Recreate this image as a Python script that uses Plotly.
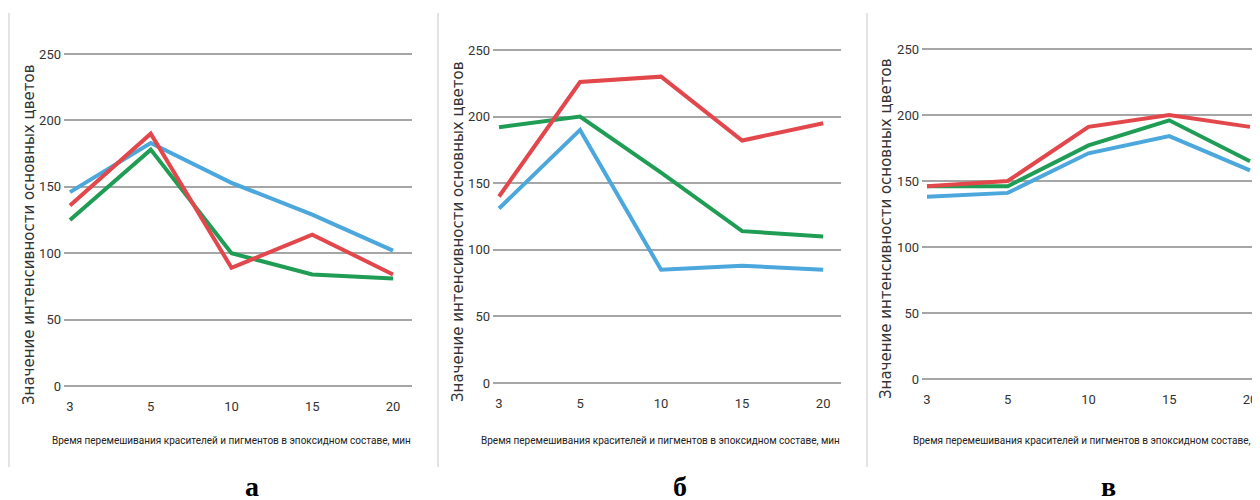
import plotly.graph_objects as go

W, H = 1260, 500

times = ["3", "5", "10", "15", "20"]
y_ticks = [0, 50, 100, 150, 200, 250]

# panel а
a_red = [136, 190, 89, 114, 84]
a_green = [125, 178, 100, 84, 81]
a_blue = [146, 183, 153, 129, 102]
# panel б
b_red = [140, 226, 230, 182, 195]
b_green = [192, 200, 158, 114, 110]
b_blue = [131, 190, 85, 88, 85]
# panel в
c_red = [146, 150, 191, 200, 191]
c_green = [146, 146, 177, 196, 165]
c_blue = [138, 141, 171, 184, 158]

panel_labels = ["а", "б", "в"]
x_title = "Время перемешивания красителей и пигментов в эпоксидном составе, мин"
y_title = "Значение интенсивности основных цветов"

RED = "#e2474b"
GREEN = "#1f9d55"
BLUE = "#4ba7dc"
GRID = "#a6a6a6"
COND = "Roboto, Liberation Sans, sans-serif"

OFF = 8  # page offset of the figure (body margin)


def px(x):
    return min(1.0, max(0.0, (x - OFF) / W))


def py(y):
    return min(1.0, max(0.0, 1 - (y - OFF) / H))


fig = go.Figure()

panels = [
    (a_red, a_green, a_blue),
    (b_red, b_green, b_blue),
    (c_red, c_green, c_blue),
]
# plot-area geometry (page pixels): left, right, y of 250, y of 0, x-range
geom = [
    (64, 412, 54, 386, [-0.074, 4.235]),
    (493, 841, 50, 383, [-0.074, 4.22]),
    (922, 1268, 49, 379, [-0.062, 4.223]),
]
PAD = 1.5  # value units of padding so 0 and 250 grid lines are drawn

for i, ((red, green, blue), (l, r, t, b, xr)) in enumerate(zip(panels, geom)):
    n = "" if i == 0 else str(i + 1)
    for vals, col in ((green, GREEN), (blue, BLUE), (red, RED)):
        fig.add_trace(go.Scatter(
            x=times, y=vals, mode="lines",
            line=dict(color=col, width=4),
            xaxis="x" + n, yaxis="y" + n, showlegend=False,
        ))
    k = (b - t) / 250.0
    fig.update_layout(**{
        "xaxis" + n: dict(
            domain=[px(l), px(r)], anchor="y" + n, type="category",
            range=xr, showgrid=False, zeroline=False, showline=False,
            ticks="", ticklabelstandoff=9, automargin=False,
            tickfont=dict(family=COND, size=13, color="#333333"),
        ),
        "yaxis" + n: dict(
            domain=[py(b + PAD * k), py(t - PAD * k)], anchor="x" + n,
            range=[-PAD, 250 + PAD],
            tickvals=y_ticks, showgrid=True, gridcolor=GRID, gridwidth=1.5,
            zeroline=False, showline=False, ticks="", automargin=False,
            ticklabelstandoff=2,
            tickfont=dict(family=COND, size=13, color="#333333"),
        ),
    })

annotations = []
# x titles
for xc, anchor in ((231, "center"), (660, "center"), (911, "left")):
    annotations.append(dict(
        text=x_title, x=px(xc), y=py(440), xref="paper", yref="paper",
        xanchor=anchor, yanchor="middle", showarrow=False,
        font=dict(family=COND, size=10, color="#222222"),
    ))
# y titles
for xc, yc in ((29, 235), (458, 232), (886, 229)):
    annotations.append(dict(
        text=y_title, x=px(xc), y=py(yc), xref="paper", yref="paper",
        xanchor="center", yanchor="middle", showarrow=False, textangle=-90,
        font=dict(family="DejaVu Sans, sans-serif", size=15, color="#333333"),
    ))
# panel letters
for lab, xc in zip(panel_labels, (252, 680, 1108)):
    annotations.append(dict(
        text="<b>" + lab + "</b>", x=px(xc), y=py(486), xref="paper", yref="paper",
        xanchor="center", yanchor="middle", showarrow=False,
        font=dict(family="Liberation Serif, Times New Roman, serif", size=28, color="#000000"),
    ))

shapes = []
for xs in (9, 438, 867):
    shapes.append(dict(
        type="line", xref="paper", yref="paper",
        x0=px(xs), x1=px(xs), y0=py(13), y1=py(467),
        line=dict(color="#c8c8c8", width=1),
    ))

fig.update_layout(
    width=W, height=H, margin=dict(l=0, r=0, t=0, b=0, autoexpand=False),
    paper_bgcolor="white", plot_bgcolor="white",
    annotations=annotations, shapes=shapes,
)

fig.write_html("out.html")
